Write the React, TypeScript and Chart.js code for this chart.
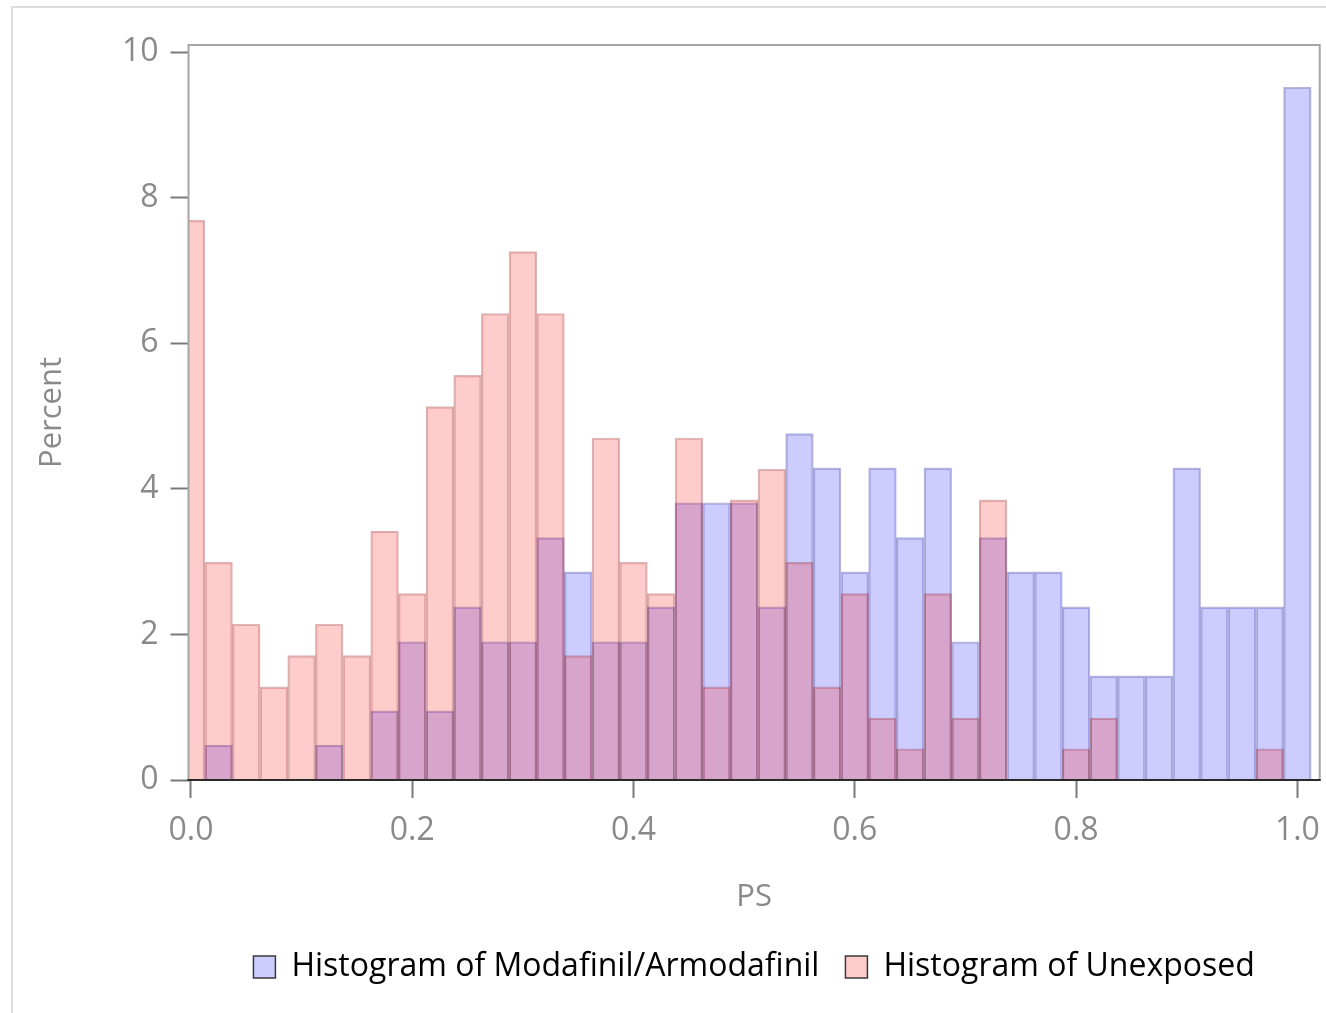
import React, { useEffect, useRef } from "react";
import { Chart, registerables } from "chart.js";

Chart.register(...registerables);

// Bin centres (PS), bin width 0.025
const binCenters = [
  0.0, 0.025, 0.05, 0.075, 0.1, 0.125, 0.15, 0.175, 0.2, 0.225,
  0.25, 0.275, 0.3, 0.325, 0.35, 0.375, 0.4, 0.425, 0.45, 0.475,
  0.5, 0.525, 0.55, 0.575, 0.6, 0.625, 0.65, 0.675, 0.7, 0.725,
  0.75, 0.775, 0.8, 0.825, 0.85, 0.875, 0.9, 0.925, 0.95, 0.975, 1.0,
];

const modafinilPct = [
  0, 0.48, 0, 0, 0, 0.48, 0, 0.95, 1.9, 0.95,
  2.38, 1.9, 1.9, 3.33, 2.86, 1.9, 1.9, 2.38, 3.81, 3.81,
  3.81, 2.38, 4.76, 4.29, 2.86, 4.29, 3.33, 4.29, 1.9, 3.33,
  2.86, 2.86, 2.38, 1.43, 1.43, 1.43, 4.29, 2.38, 2.38, 2.38, 9.52,
];

const unexposedPct = [
  7.69, 2.99, 2.14, 1.28, 1.71, 2.14, 1.71, 3.42, 2.56, 5.13,
  5.56, 6.41, 7.26, 6.41, 1.71, 4.7, 2.99, 2.56, 4.7, 1.28,
  3.85, 4.27, 2.99, 1.28, 2.56, 0.85, 0.43, 2.56, 0.85, 3.85,
  0, 0, 0.43, 0.85, 0, 0, 0, 0, 0, 0.43, 0,
];

const xTicks = [0, 0.2, 0.4, 0.6, 0.8, 1.0];
const yTicks = [0, 2, 4, 6, 8, 10];

const seriesNames = ["Histogram of Modafinil/Armodafinil", "Histogram of Unexposed"];

const TICK_FONT = "'Open Sans', sans-serif";
const LEGEND_FONT = "'Open Sans', sans-serif";
const GRAY = "#8a8a8a";

const toPoints = (vals: number[]) =>
  vals.map((v, i) => ({ x: binCenters[i], y: v === 0 ? null : v }));

const frameAndLegendPlugin = {
  id: "frameAndLegend",
  afterLayout(chart: any) {
    const lg = chart.legend;
    const ca = chart.chartArea;
    if (lg && ca) {
      lg.left = ca.left;
      lg.right = ca.right;
    }
  },
  afterDraw(chart: any) {
    const { ctx, chartArea } = chart;
    ctx.save();
    ctx.strokeStyle = "#a6a6a6";
    ctx.lineWidth = 2;
    ctx.beginPath();
    ctx.moveTo(chartArea.left, chartArea.bottom);
    ctx.lineTo(chartArea.left, chartArea.top);
    ctx.lineTo(chartArea.right, chartArea.top);
    ctx.lineTo(chartArea.right, chartArea.bottom);
    ctx.stroke();
    ctx.strokeStyle = "#2a2a2a";
    ctx.beginPath();
    ctx.moveTo(chartArea.left - 1, chartArea.bottom);
    ctx.lineTo(chartArea.right + 1, chartArea.bottom);
    ctx.stroke();
    ctx.restore();
  },
};

export default function App() {
  const canvasRef = useRef<HTMLCanvasElement | null>(null);

  useEffect(() => {
    document.body.style.margin = "0";
    const canvas = canvasRef.current;
    if (!canvas) return;
    const chart = new Chart(canvas, {
      type: "bar",
      data: {
        datasets: [
          {
            label: seriesNames[0],
            data: toPoints(modafinilPct) as any,
            backgroundColor: "rgba(0, 0, 255, 0.2)",
            borderColor: "rgba(30, 30, 150, 0.32)",
            borderWidth: 1.5,
            grouped: false,
            barPercentage: 1,
            categoryPercentage: 1,
            order: 1,
          },
          {
            label: seriesNames[1],
            data: toPoints(unexposedPct) as any,
            backgroundColor: "rgba(255, 0, 0, 0.2)",
            borderColor: "rgba(150, 30, 30, 0.32)",
            borderWidth: 1.5,
            grouped: false,
            barPercentage: 1,
            categoryPercentage: 1,
            order: 0,
          },
        ],
      },
      options: {
        animation: false,
        responsive: false,
        maintainAspectRatio: false,
        layout: { padding: { left: 20, top: 45, right: 6, bottom: 20 } },
        plugins: {
          tooltip: { enabled: false },
          legend: {
            position: "bottom",
            labels: {
              font: { family: LEGEND_FONT, size: 32 },
              color: "#111",
              boxWidth: 22,
              boxHeight: 22,
              padding: 26,
              generateLabels: () => [
                {
                  text: seriesNames[0],
                  fillStyle: "#ccccff",
                  strokeStyle: "#3a3a3a",
                  lineWidth: 1.5,
                  hidden: false,
                  datasetIndex: 0,
                },
                {
                  text: seriesNames[1],
                  fillStyle: "#ffcccc",
                  strokeStyle: "#3a3a3a",
                  lineWidth: 1.5,
                  hidden: false,
                  datasetIndex: 1,
                },
              ],
            },
          },
        },
        scales: {
          x: {
            type: "linear",
            offset: false,
            min: -0.0022,
            max: 1.0202,
            afterBuildTicks: (s: any) => {
              s.ticks = xTicks.map((v) => ({ value: v }));
            },
            afterFit: (s: any) => {
              s.height = 145;
            },
            ticks: {
              font: { family: TICK_FONT, size: 32, lineHeight: 1.7 },
              color: GRAY,
              padding: 6,
              maxRotation: 0,
              autoSkip: false,
              callback: (v: any) => Number(v).toFixed(1),
            },
            grid: {
              offset: false,
              drawOnChartArea: false,
              drawTicks: true,
              tickLength: 18,
              tickWidth: 2,
              tickColor: "#7a7a7a",
            },
            border: { display: false },
            title: {
              display: true,
              text: "PS",
              color: GRAY,
              font: { family: TICK_FONT, size: 31 },
              padding: { top: 0, bottom: 9 },
            },
          },
          y: {
            type: "linear",
            min: 0,
            max: 10.1,
            afterBuildTicks: (s: any) => {
              s.ticks = yTicks.map((v) => ({ value: v }));
            },
            afterFit: (s: any) => {
              s.width = 168.5;
            },
            ticks: {
              font: { family: TICK_FONT, size: 32 },
              color: GRAY,
              padding: 12,
              callback: (v: any) => String(v),
            },
            grid: {
              drawOnChartArea: false,
              drawTicks: true,
              tickLength: 18,
              tickWidth: 2,
              tickColor: "#7a7a7a",
            },
            border: { display: false },
            title: {
              display: true,
              text: "Percent",
              color: GRAY,
              font: { family: TICK_FONT, size: 31 },
              padding: { top: 14, bottom: 0 },
            },
          },
        },
      },
      plugins: [frameAndLegendPlugin],
    });
    return () => chart.destroy();
  }, []);

  return (
    <div style={{ position: "relative", width: 1326, height: 1013, background: "#fff", overflow: "hidden" }}>
      <div
        style={{
          position: "absolute",
          left: 11,
          top: 6,
          width: 1400,
          height: 1100,
          borderTop: "2px solid #dcdcdc",
          borderLeft: "2px solid #dcdcdc",
        }}
      />
      <canvas
        ref={canvasRef}
        width={1326}
        height={1013}
        style={{ position: "absolute", left: 0, top: 0, width: 1326, height: 1013 }}
      />
    </div>
  );
}
